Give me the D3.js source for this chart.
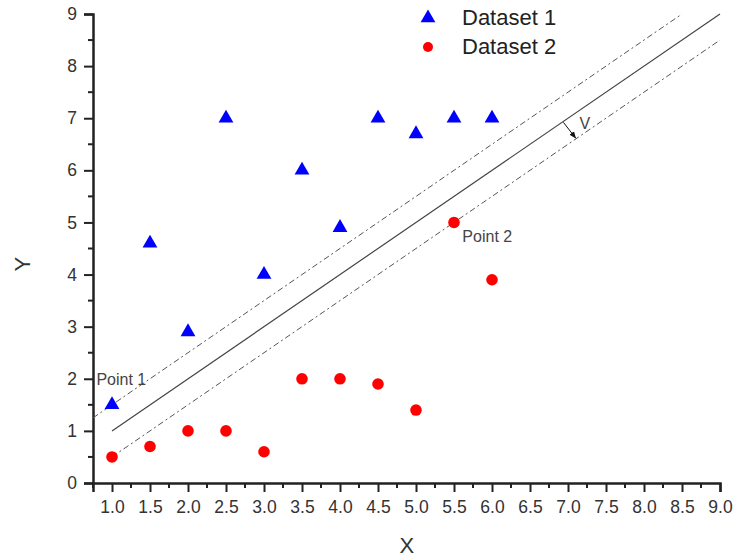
<!DOCTYPE html>
<html><head><meta charset="utf-8">
<script src="https://cdn.jsdelivr.net/npm/d3@7"></script>
<style>body{margin:0;background:#fff}svg{display:block}</style>
</head><body>
<script>
const xValues = [1.0, 1.5, 2.0, 2.5, 3.0, 3.5, 4.0, 4.5, 5.0, 5.5, 6.0];
const dataset1 = [1.5, 4.6, 2.9, 7.0, 4.0, 6.0, 4.9, 7.0, 6.7, 7.0, 7.0];
const dataset2 = [0.5, 0.7, 1.0, 1.0, 0.6, 2.0, 2.0, 1.9, 1.4, 5.0, 3.9];
const seriesNames = ["Dataset 1", "Dataset 2"];
const xTicks = [1.0,1.5,2.0,2.5,3.0,3.5,4.0,4.5,5.0,5.5,6.0,6.5,7.0,7.5,8.0,8.5,9.0];
const yTicks = [0,1,2,3,4,5,6,7,8,9];
const solidLine = [[1, 1], [9, 9]];
const upperMargin = [[0.75, 1.25], [8.5, 9.0]];
const lowerMargin = [[1, 0.5], [9, 8.5]];
const arrowV = [[6.94, 6.92], [7.1, 6.62]];
const annotations = [
  {text: "Point 1", x: 0.795, y: 1.88},
  {text: "Point 2", x: 5.61, y: 4.62},
  {text: "V", x: 7.15, y: 6.79},
];

const W = 737, H = 559;
const svg = d3.select("body").append("svg").attr("width", W).attr("height", H);
const x = d3.scaleLinear().domain([0.75, 9]).range([93, 720]);
const y = d3.scaleLinear().domain([0, 9]).range([483, 14]);
const font = "Liberation Sans, Arial, sans-serif";

const xMinor = d3.range(0.75, 9.001, 0.25).filter(v => Math.abs(v*2 - Math.round(v*2)) > 1e-6);
const yMinor = d3.range(0.5, 9, 1);

const xAxis = svg.append("g").attr("transform", `translate(0,${y(0)})`)
  .call(d3.axisBottom(x).tickValues(xTicks).tickFormat(d3.format(".1f")).tickSize(9).tickPadding(9));
xAxis.append("g").selectAll("line").data(xMinor).join("line")
  .attr("x1", d => x(d)).attr("x2", d => x(d)).attr("y1", 0).attr("y2", 5)
  .attr("stroke", "#222").attr("stroke-width", 2);
const yAxis = svg.append("g").attr("transform", `translate(${x(0.75)},0)`)
  .call(d3.axisLeft(y).tickValues(yTicks).tickFormat(d3.format("d")).tickSize(9).tickPadding(7));
yAxis.append("g").selectAll("line").data(yMinor).join("line")
  .attr("y1", d => y(d)).attr("y2", d => y(d)).attr("x1", 0).attr("x2", -5)
  .attr("stroke", "#222").attr("stroke-width", 2);
[xAxis, yAxis].forEach(g => {
  g.select(".domain").attr("stroke", "#222").attr("stroke-width", 2.5);
  g.selectAll(".tick line").attr("stroke", "#222").attr("stroke-width", 2);
  g.selectAll(".tick text").attr("font-family", font).attr("font-size", 17.5).attr("fill", "#333");
});

svg.append("text").attr("x", x(4.88)).attr("y", 553).attr("text-anchor", "middle")
  .attr("font-family", font).attr("font-size", 22).attr("fill", "#333").text("X");
svg.append("text").attr("transform", `translate(30,${y(4.2)}) rotate(-90)`).attr("text-anchor", "middle")
  .attr("font-family", font).attr("font-size", 22).attr("fill", "#333").text("Y");

const line = d3.line().x(d => x(d[0])).y(d => y(d[1]));
svg.append("path").attr("d", line(solidLine)).attr("stroke", "#444").attr("stroke-width", 1.2).attr("fill", "none");
[upperMargin, lowerMargin].forEach(l =>
  svg.append("path").attr("d", line(l)).attr("stroke", "#555").attr("stroke-width", 1)
    .attr("stroke-dasharray", "6,3,2,3").attr("fill", "none"));

svg.append("defs").append("marker").attr("id", "ah").attr("viewBox", "0 0 10 10")
  .attr("refX", 9).attr("refY", 5).attr("markerWidth", 7).attr("markerHeight", 7)
  .attr("orient", "auto").append("path").attr("d", "M0,1L10,5L0,9Z").attr("fill", "#111");
svg.append("path").attr("d", line(arrowV)).attr("stroke", "#111").attr("stroke-width", 1)
  .attr("marker-end", "url(#ah)");

const tri = d3.symbol().type(d3.symbolTriangle).size(95);
svg.append("g").selectAll("path").data(xValues).join("path")
  .attr("d", tri).attr("transform", (d, i) => `translate(${x(d)},${y(dataset1[i])})`)
  .attr("fill", "#0000ff");
svg.append("g").selectAll("circle").data(xValues).join("circle")
  .attr("cx", d => x(d)).attr("cy", (d, i) => y(dataset2[i])).attr("r", 5.8).attr("fill", "#ff0000");

svg.append("g").selectAll("text").data(annotations).join("text")
  .attr("x", d => x(d.x)).attr("y", d => y(d.y)).attr("font-family", font)
  .attr("font-size", 16).attr("fill", "#444").text(d => d.text);

const lg = svg.append("g");
lg.append("path").attr("d", tri).attr("transform", "translate(428,18)").attr("fill", "#0000ff");
lg.append("circle").attr("cx", 428).attr("cy", 47).attr("r", 5).attr("fill", "#ff0000");
lg.append("text").attr("x", 462).attr("y", 25).attr("font-family", font).attr("font-size", 22).attr("fill", "#222").text(seriesNames[0]);
lg.append("text").attr("x", 462).attr("y", 54).attr("font-family", font).attr("font-size", 22).attr("fill", "#222").text(seriesNames[1]);
</script>
</body></html>
